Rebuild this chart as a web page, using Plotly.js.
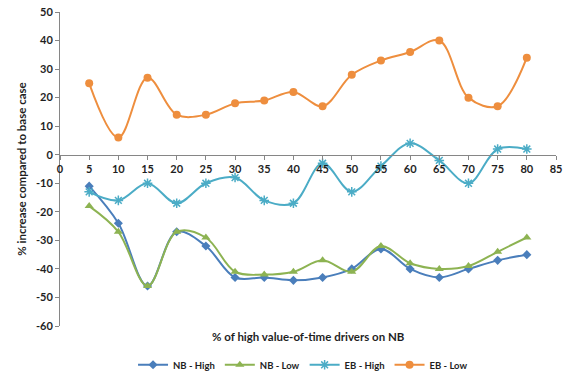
<!DOCTYPE html>
<html>
<head>
<meta charset="utf-8">
<script src="https://cdn.plot.ly/plotly-3.0.1.min.js"></script>
<style>html,body{margin:0;padding:0;background:#fff;}#chart{width:584px;height:390px;}</style>
</head>
<body>
<div id="chart"></div>
<script>
const xValues = [5, 10, 15, 20, 25, 30, 35, 40, 45, 50, 55, 60, 65, 70, 75, 80];
const nbHigh = [-11, -24, -46, -27, -32, -43, -43, -44, -43, -40, -33, -40, -43, -40, -37, -35];
const nbLow  = [-18, -27, -46, -27, -29, -41, -42, -41, -37, -41, -32, -38, -40, -39, -34, -29];
const ebHigh = [-13, -16, -10, -17, -10, -8, -16, -17, -3, -13, -4, 4, -2, -10, 2, 2];
const ebLow  = [25, 6, 27, 14, 14, 18, 19, 22, 17, 28, 33, 36, 40, 20, 17, 34];
const seriesNames = ['NB - High', 'NB - Low', 'EB - High', 'EB - Low'];
const yTickVals = [50, 40, 30, 20, 10, 0, -10, -20, -30, -40, -50, -60];
const yTickText = ['50', '40', '30', '20', '10', '0', '-10', '-20', '-30', '-40', '-50', '-60'];
const xTitle = '% of high value-of-time drivers on NB';
const yTitle = '% increase compared to base case';

const colors = ['#4A7EBB', '#8DB352', '#4BACC6', '#EE8E3E'];
const symbols = ['diamond', 'triangle-up', 'asterisk-open', 'circle'];
const sizes = [7, 8, 8, 8];
const data = [nbHigh, nbLow, ebHigh, ebLow].map((ys, i) => ({
  x: xValues, y: ys, name: seriesNames[i], type: 'scatter', mode: 'lines+markers',
  line: {color: colors[i], width: 2, shape: 'spline', smoothing: 1},
  marker: {symbol: symbols[i], size: sizes[i], color: colors[i], line: {color: colors[i], width: i === 2 ? 1.5 : 0}}
}));

const fam = 'Lato, "Open Sans", sans-serif';
const tickFont = {family: fam, size: 11, color: '#1f1f1f', weight: 'bold'};
const titleFont = {family: fam, size: 11.5, color: '#1f1f1f', weight: 'bold'};
const layout = {
  width: 584, height: 390,
  margin: {l: 59.5, r: 28, t: 11.7, b: 63},
  paper_bgcolor: '#fff', plot_bgcolor: '#fff',
  font: tickFont,
  showlegend: true,
  legend: {orientation: 'h', x: 0.49, xanchor: 'center', y: -0.12, yanchor: 'middle',
           font: {family: fam, size: 9.5, color: '#1f1f1f', weight: 'bold'}, tracegroupgap: 0},
  xaxis: {range: [0, 85], dtick: 5, tick0: 0, anchor: 'free', position: 60/110,
          showline: true, linecolor: '#868686', linewidth: 1, ticks: 'outside', ticklen: 4, tickcolor: '#868686',
          showgrid: false, zeroline: false, tickfont: tickFont},
  yaxis: {range: [-60, 50], tickvals: yTickVals, ticktext: yTickText, showline: true, linecolor: '#868686', linewidth: 1,
          ticks: 'outside', ticklen: 4, tickcolor: '#868686', showgrid: false, zeroline: false,
          tickfont: tickFont, title: {text: yTitle, font: titleFont, standoff: 6}},
  annotations: [{text: xTitle, xref: 'paper', yref: 'paper', x: 0.5, y: (327 - 338) / 315.3,
                 xanchor: 'center', yanchor: 'middle', showarrow: false, font: titleFont}]
};
Plotly.newPlot('chart', data, layout, {displayModeBar: false, staticPlot: true});
</script>
</body>
</html>
